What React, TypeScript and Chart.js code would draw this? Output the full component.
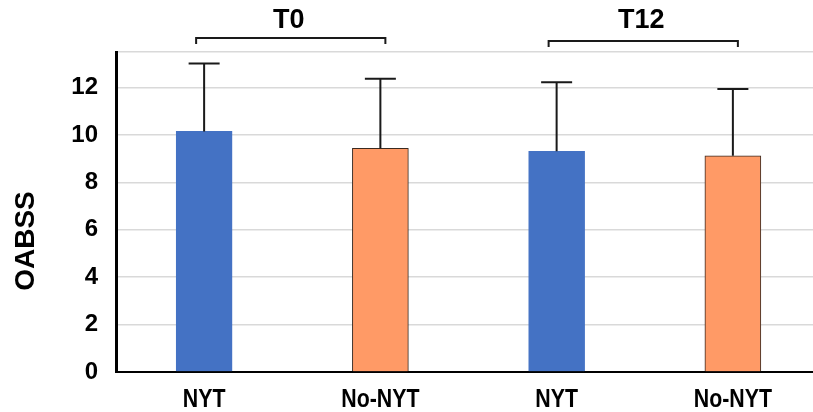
import React, { useEffect, useRef } from "react";
import { Chart, registerables } from "chart.js";

Chart.register(...registerables);

// ---- data ----
const categories = ["NYT", "No-NYT", "NYT", "No-NYT"];
const means = [10.15, 9.44, 9.31, 9.12];
const upperErrors = [13.02, 12.37, 12.22, 11.94];
const groupLabels = ["T0", "T12"];
const groupMembers = [
  [0, 1],
  [2, 3],
];
const barColors = ["#4472C4", "#FF9A66", "#4472C4", "#FF9A66"];
const barBorders = ["#4472C4", "#3a2a20", "#4472C4", "#3a2a20"];
const yTitle = "OABSS";
const yMax = 13.5;
const yStep = 2;

const errorBarPlugin = {
  id: "errorBars",
  afterDatasetsDraw(chart: any) {
    const ctx = chart.ctx;
    const meta = chart.getDatasetMeta(0);
    const yScale = chart.scales.y;
    ctx.save();
    ctx.strokeStyle = "#1a1a1a";
    ctx.lineWidth = 2;
    meta.data.forEach((bar: any, i: number) => {
      const x = bar.x;
      const yTop = yScale.getPixelForValue(upperErrors[i]);
      const yBar = bar.y;
      ctx.beginPath();
      ctx.moveTo(x, yBar);
      ctx.lineTo(x, yTop);
      ctx.moveTo(x - 15.5, yTop);
      ctx.lineTo(x + 15.5, yTop);
      ctx.stroke();
    });
    ctx.restore();
  },
};

const annotationPlugin = {
  id: "annotations",
  afterDraw(chart: any) {
    const ctx = chart.ctx;
    const meta = chart.getDatasetMeta(0);
    const xScale = chart.scales.x;

    // x category labels (condensed bold, like Arial Narrow)
    ctx.save();
    ctx.fillStyle = "#000";
    ctx.font = "bold 26px 'Liberation Sans', Arial, sans-serif";
    ctx.textAlign = "center";
    ctx.textBaseline = "middle";
    chart.data.labels.forEach((lab: string, i: number) => {
      const x = xScale.getPixelForValue(i);
      ctx.save();
      ctx.translate(x, 399.5);
      ctx.scale(0.82, 1);
      ctx.fillText(lab, 0, 0);
      ctx.restore();
    });
    ctx.restore();

    // y title
    ctx.save();
    ctx.fillStyle = "#000";
    ctx.font = "bold 28px 'Liberation Sans', Arial, sans-serif";
    ctx.textAlign = "center";
    ctx.textBaseline = "middle";
    ctx.translate(26, 241);
    ctx.rotate(-Math.PI / 2);
    ctx.fillText(yTitle, 0, 0);
    ctx.restore();

    // group brackets
    ctx.save();
    ctx.strokeStyle = "#1a1a1a";
    ctx.lineWidth = 2;
    ctx.fillStyle = "#000";
    ctx.font = "bold 27px 'Liberation Sans', Arial, sans-serif";
    ctx.textAlign = "center";
    ctx.textBaseline = "middle";
    groupMembers.forEach((members, g) => {
      const x1 = meta.data[members[0]].x - 8;
      const x2 = meta.data[members[1]].x + 5;
      const yb = g === 0 ? 38 : 41;
      ctx.beginPath();
      ctx.moveTo(x1, yb + 6);
      ctx.lineTo(x1, yb);
      ctx.lineTo(x2, yb);
      ctx.lineTo(x2, yb + 6);
      ctx.stroke();
      ctx.fillText(groupLabels[g], (x1 + x2) / 2 - 2, 21);
    });
    ctx.restore();
  },
};

export default function App() {
  const canvasRef = useRef<HTMLCanvasElement | null>(null);

  useEffect(() => {
    const canvas = canvasRef.current;
    if (!canvas) return;
    const chart = new Chart(canvas, {
      type: "bar",
      data: {
        labels: categories,
        datasets: [
          {
            data: means,
            backgroundColor: barColors,
            borderColor: barBorders,
            borderWidth: 1,
            barThickness: 56,
          },
        ],
      },
      options: {
        animation: false,
        responsive: false,
        devicePixelRatio: 1,
        layout: { padding: { top: 52, right: 9, left: 0, bottom: 0 } },
        plugins: {
          legend: { display: false },
          tooltip: { enabled: false },
        },
        scales: {
          x: {
            grid: { display: false, drawTicks: false },
            border: { color: "#000", width: 2 },
            ticks: { display: false },
            afterFit: (s: any) => {
              s.height = 40;
            },
          },
          y: {
            min: 0,
            max: yMax,
            grid: { color: "#d9d9d9", lineWidth: 1.5, drawTicks: false },
            border: { color: "#000", width: 3 },
            ticks: {
              stepSize: yStep,
              color: "#000",
              padding: 18,
              font: {
                family: "'Liberation Sans', Arial, sans-serif",
                weight: "bold",
                size: 24,
              },
              callback: (v: any) =>
                Number.isInteger(v) && v % yStep === 0 ? String(v) : "",
            },
            afterFit: (s: any) => {
              s.width = 116;
            },
          },
        },
      },
      plugins: [errorBarPlugin, annotationPlugin],
    });
    return () => chart.destroy();
  }, []);

  return (
    <div
      style={{
        position: "fixed",
        left: 0,
        top: 0,
        width: 813,
        height: 412,
        overflow: "hidden",
        background: "#fff",
      }}
    >
      <canvas ref={canvasRef} width={830} height={412} style={{ display: "block" }} />
    </div>
  );
}
